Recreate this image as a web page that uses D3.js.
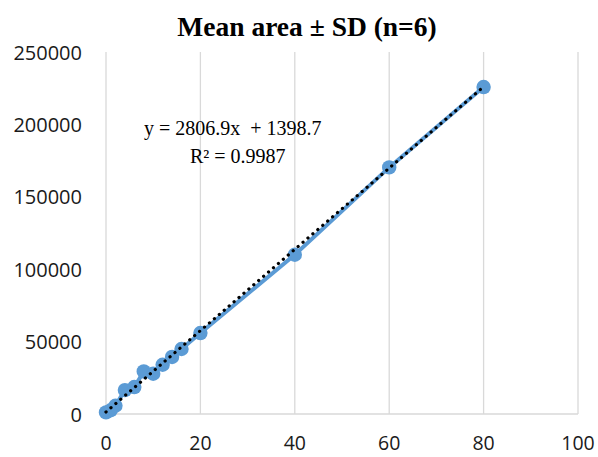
<!DOCTYPE html>
<html>
<head>
<meta charset="utf-8">
<script src="https://cdn.jsdelivr.net/npm/d3@7"></script>
<style>
  body { margin: 0; background: #fff; }
</style>
</head>
<body>
<script>
// concentration (x) and mean area (y)
var conc = [0, 1, 2, 4, 6, 8, 10, 12, 14, 16, 20, 40, 60, 80];
var area = [1100, 2600, 5700, 16500, 18600, 29400, 27800, 34000, 39400, 44900, 55900, 110000, 170300, 225800];
var xTicks = [0, 20, 40, 60, 80, 100];
var yTicks = [0, 50000, 100000, 150000, 200000, 250000];
var slope = 2806.9, intercept = 1398.7;

var width = 598, height = 457;
var margin = {top: 52, right: 20, bottom: 43, left: 106};

var svg = d3.select("body").append("svg")
  .attr("width", width)
  .attr("height", height);

var x = d3.scaleLinear().domain([0, 100]).range([margin.left, 578]);
var y = d3.scaleLinear().domain([0, 250000]).range([414, margin.top]);

// vertical gridlines
svg.append("g")
  .selectAll("line")
  .data(xTicks)
  .enter().append("line")
  .attr("x1", d => x(d)).attr("x2", d => x(d))
  .attr("y1", y(0)).attr("y2", y(250000))
  .attr("stroke", "#d9d9d9")
  .attr("stroke-width", 1.3);

// x axis line
svg.append("line")
  .attr("x1", x(0)).attr("x2", x(100))
  .attr("y1", y(0)).attr("y2", y(0))
  .attr("stroke", "#d9d9d9")
  .attr("stroke-width", 1.3);

// tick labels
svg.append("g").selectAll("text")
  .data(xTicks).enter().append("text")
  .attr("x", d => x(d))
  .attr("y", 450)
  .attr("text-anchor", "middle")
  .style("font-family", "'Open Sans', sans-serif")
  .style("font-size", "19.5px")
  .attr("fill", "#1a1a1a")
  .text(d => d);

svg.append("g").selectAll("text")
  .data(yTicks).enter().append("text")
  .attr("x", 82)
  .attr("y", d => y(d) + 7.5)
  .attr("text-anchor", "end")
  .style("font-family", "'Open Sans', sans-serif")
  .style("font-size", "20px")
  .attr("fill", "#1a1a1a")
  .text(d => d);

var pts = conc.map((c, i) => ({x: c, y: area[i]}));

// series line
svg.append("path")
  .datum(pts)
  .attr("fill", "none")
  .attr("stroke", "#5b9bd5")
  .attr("stroke-width", 4)
  .attr("stroke-linejoin", "round")
  .attr("d", d3.line().x(d => x(d.x)).y(d => y(d.y)));

// markers
svg.append("g").selectAll("circle")
  .data(pts).enter().append("circle")
  .attr("cx", d => x(d.x))
  .attr("cy", d => y(d.y))
  .attr("r", 7.2)
  .attr("fill", "#5b9bd5");

// linear trendline, dotted
var x0 = d3.min(conc), x1 = d3.max(conc);
svg.append("line")
  .attr("x1", x(x0)).attr("y1", y(slope * x0 + intercept))
  .attr("x2", x(x1)).attr("y2", y(slope * x1 + intercept))
  .attr("stroke", "#000")
  .attr("stroke-width", 3.2)
  .attr("stroke-linecap", "round")
  .attr("stroke-dasharray", "0.1 6.4");

// title
svg.append("text")
  .attr("x", 307)
  .attr("y", 36)
  .attr("text-anchor", "middle")
  .style("font-family", "'Liberation Serif', serif")
  .style("font-weight", "bold")
  .style("font-size", "27.5px")
  .text("Mean area ± SD (n=6)");

// equation
svg.append("text")
  .attr("x", 144)
  .attr("y", 135)
  .style("font-family", "'Liberation Serif', serif")
  .style("font-size", "20px")
  .style("white-space", "pre")
  .text("y = " + slope + "x  + " + intercept);

svg.append("text")
  .attr("x", 190)
  .attr("y", 163)
  .style("font-family", "'Liberation Serif', serif")
  .style("font-size", "20px")
  .text("R² = 0.9987");
</script>
</body>
</html>
